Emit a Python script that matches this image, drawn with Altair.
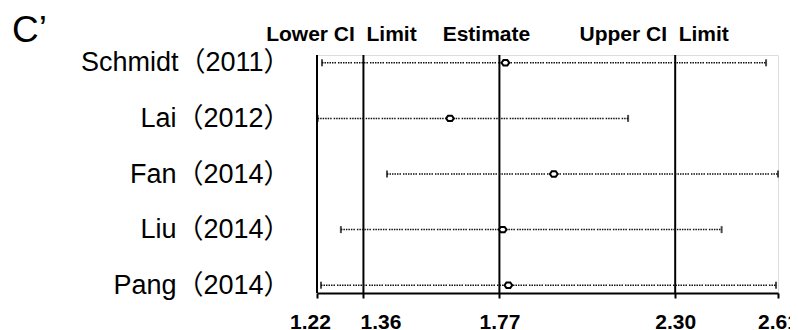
import altair as alt
import pandas as pd

# ---- data ----
studies = ["Schmidt（2011）", "Lai（2012）", "Fan（2014）", "Liu（2014）", "Pang（2014）"]
lower = [1.235, 1.222, 1.431, 1.292, 1.232]
estimate = [1.788, 1.621, 1.934, 1.780, 1.797]
upper = [2.574, 2.158, 2.610, 2.440, 2.604]

ref_values = [1.22, 1.36, 1.77, 2.30]
tick_values = [1.22, 1.36, 1.77, 2.30, 2.61]
headers = ["Lower CI\u00a0 Limit", "Estimate", "Upper CI\u00a0 Limit"]
header_anchor = [1.36, 1.77, 2.30]
header_dx = [-22, -13, -21]
panel_label = "C’"

df = pd.DataFrame({"study": studies, "lower": lower, "est": estimate, "upper": upper})
refs = pd.DataFrame({"v": ref_values})

xscale = alt.Scale(domain=[1.22, 2.61], nice=False, zero=False)
yscale = alt.Scale(type="point", padding=0.14)

xaxis = alt.Axis(values=tick_values, format=".2f", title=None, grid=False,
                 domainColor="black", domainWidth=2, tickColor="black", tickWidth=2,
                 tickSize=5, labelFont="Liberation Sans", labelFontWeight="bold",
                 labelFontSize=21, labelColor="black", labelPadding=13,
                 labelOffset=alt.expr("datum.value == 1.22 ? -7 : (datum.value == 1.36 ? 17 : 0)"),
                 labelOverlap=False, labelFlush=False)
yaxis = alt.Axis(title=None, domain=False, ticks=False, tickSize=0, grid=False,
                 labelFont="Liberation Sans, Noto Sans CJK SC", labelFontSize=27,
                 labelColor="black", labelPadding=27, labelLimit=0)

base = alt.Chart(df)
Y = alt.Y("study:N", sort=studies, scale=yscale, axis=yaxis)

ci = base.mark_rule(color="#111", strokeWidth=1.5,
                    strokeDash=[1.5, 1, 1.5, 1, 1.5, 1, 1.5, 1, 1.5, 1, 1.5, 2]).encode(
    x=alt.X("lower:Q", scale=xscale, axis=xaxis), x2="upper:Q", y=Y)
cap_lo = base.mark_tick(color="black", thickness=2, size=7).encode(x="lower:Q", y=Y)
cap_hi = base.mark_tick(color="black", thickness=2, size=7).encode(x="upper:Q", y=Y)
est = base.mark_point(shape="M-1,0L-0.5,-0.7L0.5,-0.7L1,0L0.5,0.7L-0.5,0.7Z", filled=True,
                      fill="white", stroke="black", size=60, strokeWidth=2,
                      opacity=1).encode(x="est:Q", y=Y)

vlines = alt.Chart(refs).mark_rule(color="black", strokeWidth=2).encode(x="v:Q")

layers = [vlines, ci, cap_lo, cap_hi, est]
for h, a, d in zip(headers, header_anchor, header_dx):
    layers.append(
        alt.Chart(pd.DataFrame({"t": [h], "v": [a]})).mark_text(
            font="Liberation Sans", fontWeight="bold", fontSize=21, color="black",
            align="center", baseline="alphabetic", dx=d
        ).encode(x="v:Q", y=alt.value(-14), text="t:N")
    )
layers.append(
    alt.Chart(pd.DataFrame({"t": [panel_label]})).mark_text(
        font="Liberation Sans", fontSize=37, color="black", align="left",
        baseline="alphabetic"
    ).encode(x=alt.value(-305), y=alt.value(-13), text="t:N")
)

chart = alt.layer(*layers).properties(
    width=461, height=238,
    padding={"left": 309, "top": 47, "right": 12, "bottom": 40},
    autosize=alt.AutoSizeParams(type="none"),
).configure_view(stroke=None).configure(background="white")

chart.save("out.html", embed_options={"renderer": "svg", "actions": False})
